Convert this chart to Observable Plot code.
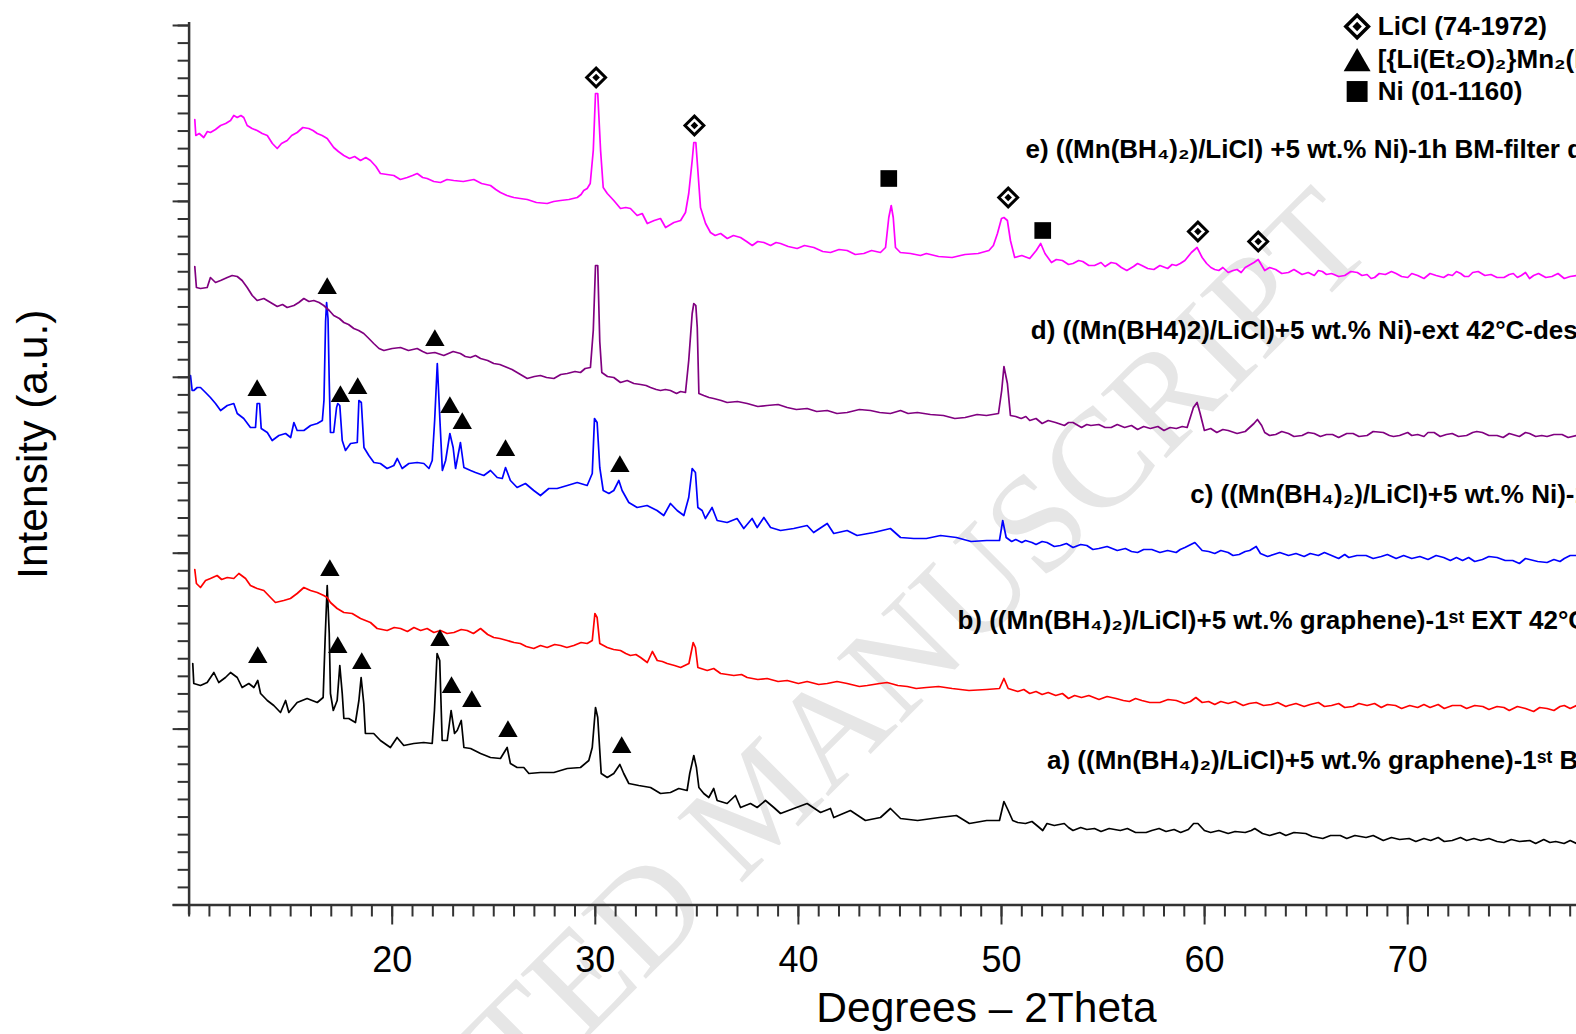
<!DOCTYPE html>
<html><head><meta charset="utf-8">
<script src="https://cdn.jsdelivr.net/npm/d3@7"></script>
<script src="https://cdn.jsdelivr.net/npm/@observablehq/plot@0.6"></script>
<style>
html,body{margin:0;padding:0;background:#fff;overflow:hidden;width:1576px;height:1034px;}
#chart{width:1650px;height:1034px;}
#chart svg{display:block;max-width:none !important;width:1650px !important;height:1034px !important;}
</style></head><body><div id="chart"></div>
<script>
// ---- data: [2θ (degrees), intensity (a.u., offset per pattern)] ----
const traceE = [[10.28,782],[10.33,766],[10.5,768],[10.72,764],[10.9,770],[11.05,769],[11.3,772],[11.55,776],[11.8,778],[12.04,781],[12.2,786],[12.37,784],[12.55,786],[12.69,784],[12.86,776],[13.1,773],[13.35,771],[13.6,768],[13.85,766],[14.1,758],[14.34,753],[14.55,758],[14.83,761],[15.05,766],[15.32,769],[15.6,774],[15.89,773],[16.1,771],[16.31,768],[16.55,766],[16.8,763],[17.12,754],[17.35,750],[17.62,746],[17.9,743],[18.15,745],[18.44,741],[18.7,744],[18.93,741],[19.2,735],[19.42,728],[19.75,727],[20.08,726],[20.4,722],[20.74,724],[21.0,726],[21.23,728],[21.5,724],[21.72,723],[22.05,720],[22.38,719],[22.7,722],[23.03,721],[23.5,720],[24.02,722],[24.4,718],[24.84,716],[25.1,712],[25.33,709],[25.65,706],[25.99,704],[26.3,703],[26.65,702],[27.1,699],[27.63,698],[27.95,700],[28.29,701],[28.7,702],[29.11,704],[29.3,707],[29.43,711],[29.6,713],[29.75,718],[29.9,751],[30.01,808],[30.12,808],[30.26,751],[30.39,714],[30.59,708],[30.91,701],[31.24,693],[31.5,694],[31.73,693],[32.06,686],[32.31,688],[32.56,678],[32.9,681],[33.21,683],[33.46,674],[33.87,679],[34.2,681],[34.44,689],[34.6,708],[34.77,741],[34.85,759],[34.95,759],[35.05,731],[35.18,694],[35.43,678],[35.67,669],[35.9,666],[36.17,668],[36.5,663],[36.8,666],[37.15,664],[37.45,660],[37.73,656],[38.0,660],[38.3,659],[38.63,656],[38.9,659],[39.12,658],[39.5,655],[39.94,653],[40.3,656],[40.76,654],[41.2,650],[41.58,649],[42.0,652],[42.4,651],[42.8,647],[43.22,648],[43.6,651],[44.04,649],[44.29,654],[44.45,684],[44.57,696],[44.67,684],[44.78,654],[45.02,649],[45.52,648],[46.01,646],[46.3,648],[46.9,645],[47.57,644],[48.2,647],[48.85,648],[49.38,651],[49.6,656],[49.8,668],[50.0,683],[50.12,684],[50.29,681],[50.44,661],[50.65,644],[51.0,646],[51.39,643],[51.71,651],[51.93,658],[52.14,648],[52.46,639],[52.7,642],[53.0,641],[53.3,637],[53.52,638],[53.8,641],[54.0,640],[54.3,636],[54.58,636],[54.9,639],[55.1,635],[55.4,639],[55.64,638],[55.9,634],[56.17,631],[56.5,635],[56.7,638],[56.91,636],[57.2,633],[57.5,632],[57.8,636],[58.18,633],[58.4,637],[58.6,636],[58.8,638],[59.03,641],[59.35,649],[59.63,654],[59.88,644],[60.1,638],[60.31,634],[60.5,632],[60.7,631],[60.9,634],[61.16,629],[61.4,631],[61.6,632],[61.8,629],[62.0,634],[62.43,639],[62.64,642],[62.96,631],[63.2,634],[63.5,632],[63.8,628],[64.13,629],[64.4,632],[64.8,627],[65.1,629],[65.4,626],[65.6,631],[65.8,630],[66.0,627],[66.25,628],[66.6,625],[66.9,626],[67.2,630],[67.52,629],[67.75,626],[68.0,627],[68.2,623],[68.37,624],[68.6,628],[68.9,627],[69.2,630],[69.43,628],[69.7,625],[70.0,624],[70.2,628],[70.49,626],[70.8,623],[71.1,628],[71.4,626],[71.77,624],[72.0,627],[72.2,626],[72.4,630],[72.61,628],[72.8,625],[73.0,625],[73.2,629],[73.47,630],[73.8,626],[74.1,627],[74.4,624],[74.74,624],[75.0,627],[75.2,628],[75.4,624],[75.59,626],[75.8,629],[76.0,623],[76.2,626],[76.44,628],[76.8,624],[77.1,625],[77.4,628],[77.71,623],[78.0,625],[78.31,626],[78.6,623],[78.9,626],[79.2,625],[79.6,622],[80,624]];

const traceD = [[10.28,635],[10.36,614],[10.56,613],[10.89,614],[11.05,624],[11.3,619],[11.55,621],[11.88,624],[12.12,626],[12.37,625],[12.61,621],[12.86,614],[13.11,606],[13.35,601],[13.68,603],[14.01,599],[14.34,595],[14.6,597],[14.83,594],[15.16,596],[15.4,599],[15.65,603],[15.9,600],[16.14,601],[16.4,599],[16.63,596],[16.9,591],[17.12,586],[17.4,583],[17.62,579],[17.85,577],[18.11,573],[18.35,571],[18.6,568],[18.85,563],[19.09,558],[19.35,553],[19.59,551],[20.0,553],[20.41,554],[20.8,551],[21.23,553],[21.5,550],[21.72,548],[22.1,549],[22.54,546],[23.0,550],[23.36,548],[23.6,545],[23.85,544],[24.1,546],[24.35,543],[24.7,541],[25.0,538],[25.3,537],[25.66,534],[25.9,532],[26.15,529],[26.4,526],[26.65,523],[27.0,525],[27.3,526],[27.6,524],[27.96,523],[28.3,527],[28.62,528],[29.0,530],[29.27,529],[29.5,533],[29.76,534],[29.9,571],[30.01,636],[30.12,636],[30.22,560],[30.32,529],[30.6,525],[30.91,524],[31.24,519],[31.57,521],[31.9,518],[32.23,517],[32.5,516],[32.72,514],[33.0,512],[33.21,511],[33.45,512],[33.7,511],[34.0,508],[34.2,510],[34.44,509],[34.6,541],[34.77,588],[34.85,598],[34.95,596],[35.02,574],[35.1,508],[35.34,506],[35.6,504],[35.83,503],[36.2,501],[36.49,499],[37.0,500],[37.48,498],[38.0,495],[38.46,496],[39.0,497],[39.45,494],[39.9,492],[40.43,493],[40.9,490],[41.42,491],[41.9,488],[42.4,489],[43.0,492],[43.55,491],[44.0,489],[44.53,488],[45.03,491],[45.4,488],[45.86,489],[46.5,487],[47.14,486],[47.7,483],[48.21,484],[48.8,487],[49.26,486],[49.85,488],[50.01,511],[50.12,535],[50.29,518],[50.44,486],[50.7,485],[50.97,483],[51.2,485],[51.39,481],[51.7,483],[52.0,478],[52.3,481],[52.66,479],[53.1,476],[53.3,479],[53.52,479],[53.94,474],[54.2,477],[54.4,476],[54.79,477],[55.1,474],[55.4,474],[55.7,477],[56.06,474],[56.4,476],[56.7,472],[57.0,475],[57.33,473],[57.7,475],[58.0,471],[58.3,474],[58.61,473],[58.9,475],[59.14,474],[59.45,494],[59.63,499],[59.78,488],[59.99,471],[60.3,473],[60.6,469],[60.9,472],[61.16,471],[61.6,468],[62.0,470],[62.43,478],[62.6,482],[62.81,476],[62.96,469],[63.2,466],[63.5,467],[63.8,470],[64.13,468],[64.4,465],[64.8,466],[65.1,469],[65.4,468],[65.7,465],[66.0,467],[66.3,467],[66.6,464],[67.0,468],[67.31,468],[67.6,465],[68.0,466],[68.3,470],[68.8,469],[69.1,466],[69.3,465],[69.6,466],[70.0,469],[70.2,466],[70.49,467],[70.8,465],[71.0,469],[71.3,469],[71.6,465],[71.9,467],[72.19,468],[72.5,465],[72.9,466],[73.2,469],[73.4,470],[73.68,469],[74.0,466],[74.4,466],[74.7,464],[75.0,468],[75.17,467],[75.5,465],[75.8,469],[76.0,468],[76.3,465],[76.6,466],[76.86,465],[77.2,467],[77.6,467],[77.9,464],[78.31,466],[78.7,464],[79.0,466],[79.2,465],[79.6,467],[80,466]];

const traceC = [[10.07,526],[10.15,511],[10.23,511],[10.4,514],[10.56,514],[10.81,509],[11.05,504],[11.3,498],[11.55,491],[11.88,496],[12.2,498],[12.37,488],[12.69,483],[13.02,474],[13.27,474],[13.35,498],[13.47,498],[13.55,473],[13.85,469],[14.09,461],[14.42,466],[14.75,468],[15.0,464],[15.16,479],[15.32,471],[15.65,471],[15.98,476],[16.31,478],[16.56,481],[16.64,501],[16.72,580],[16.77,599],[16.84,583],[16.9,520],[16.96,469],[17.12,469],[17.26,494],[17.32,498],[17.42,496],[17.54,461],[17.7,451],[17.95,458],[18.28,459],[18.36,501],[18.48,499],[18.61,454],[18.85,446],[19.1,439],[19.42,438],[19.75,433],[20.08,436],[20.25,443],[20.49,433],[20.82,438],[21.23,439],[21.56,438],[21.81,433],[21.97,441],[22.09,481],[22.22,538],[22.35,481],[22.47,431],[22.63,441],[22.84,468],[23.0,454],[23.12,433],[23.36,459],[23.53,434],[23.86,431],[24.1,429],[24.51,426],[24.84,431],[25.17,424],[25.42,423],[25.58,434],[25.82,421],[26.15,414],[26.56,418],[26.97,411],[27.3,406],[27.71,413],[28.12,413],[28.62,416],[29.11,419],[29.6,416],[29.85,428],[29.96,483],[30.09,479],[30.22,434],[30.39,411],[30.67,408],[30.91,411],[31.16,421],[31.32,411],[31.65,399],[32.06,394],[32.55,396],[33.04,391],[33.37,386],[33.7,398],[34.03,391],[34.36,386],[34.6,404],[34.77,433],[34.93,429],[35.05,394],[35.26,391],[35.42,383],[35.75,394],[36.0,381],[36.49,379],[36.98,383],[37.31,373],[37.72,383],[37.97,374],[38.3,384],[38.63,374],[39.12,371],[39.77,373],[40.43,376],[40.75,369],[41.42,378],[41.74,368],[42.4,371],[42.89,366],[43.71,369],[44.53,373],[45.03,364],[45.68,363],[46.3,363],[47.0,366],[47.78,364],[48.5,360],[49.27,361],[49.9,361],[50.06,381],[50.23,364],[50.5,360],[50.7,362],[51.0,359],[51.18,361],[51.5,359],[51.7,357],[52.0,360],[52.24,359],[52.6,355],[52.9,356],[53.2,358],[53.52,354],[53.9,357],[54.2,356],[54.5,352],[54.79,353],[55.2,355],[55.7,351],[56.1,353],[56.4,350],[56.7,349],[57.0,352],[57.4,352],[57.8,349],[58.18,351],[58.6,349],[58.8,352],[59.03,354],[59.52,359],[59.88,351],[60.2,350],[60.5,348],[60.8,351],[61.16,349],[61.4,346],[61.7,347],[62.0,350],[62.22,351],[62.54,355],[62.75,348],[63.1,345],[63.4,347],[63.7,349],[64.13,346],[64.5,348],[64.9,345],[65.2,348],[65.6,346],[65.9,349],[66.25,346],[66.6,343],[66.9,347],[67.1,344],[67.5,346],[67.95,346],[68.3,343],[68.7,345],[69.0,347],[69.43,343],[69.8,346],[70.2,343],[70.6,345],[71.0,342],[71.4,346],[71.77,344],[72.1,341],[72.4,344],[72.7,341],[73.0,344],[73.3,340],[73.68,342],[74.0,345],[74.4,344],[74.8,341],[75.17,341],[75.5,338],[75.8,343],[76.0,342],[76.4,340],[76.86,339],[77.2,342],[77.5,340],[77.71,343],[78.0,346],[78.31,346],[78.6,342],[79.0,344],[79.3,342],[79.6,345],[80,344]];

const traceB = [[10.28,332],[10.36,318],[10.56,314],[10.81,321],[11.05,323],[11.38,326],[11.6,322],[11.88,324],[12.2,323],[12.45,328],[12.78,323],[13.02,316],[13.35,313],[13.68,311],[14.01,304],[14.25,299],[14.66,301],[14.99,303],[15.32,308],[15.65,314],[15.98,311],[16.31,309],[16.63,306],[16.8,304],[16.96,299],[17.29,293],[17.62,289],[18.03,288],[18.44,283],[18.93,279],[19.26,273],[19.75,271],[20.1,274],[20.41,273],[20.75,270],[21.07,274],[21.4,271],[21.72,273],[22.05,269],[22.38,271],[22.7,268],[23.04,269],[23.4,272],[23.69,271],[24.0,268],[24.35,273],[24.7,267],[25.0,264],[25.3,263],[25.66,261],[26.0,259],[26.31,258],[26.6,255],[26.97,253],[27.3,256],[27.63,254],[28.0,257],[28.29,256],[28.6,254],[28.94,256],[29.3,259],[29.6,258],[29.85,261],[29.98,288],[30.09,284],[30.22,258],[30.59,254],[30.9,252],[31.24,251],[31.5,248],[31.73,246],[32.0,247],[32.23,244],[32.56,239],[32.81,250],[33.05,241],[33.3,240],[33.54,238],[33.9,236],[34.2,234],[34.61,238],[34.82,259],[34.93,254],[35.05,234],[35.51,231],[35.83,233],[36.17,228],[36.5,227],[36.82,226],[37.2,227],[37.48,224],[38.0,222],[38.46,223],[39.0,220],[39.45,221],[40.0,218],[40.43,220],[41.0,217],[41.42,218],[41.9,220],[42.4,218],[43.0,215],[43.39,216],[44.0,218],[44.37,219],[44.9,216],[45.36,215],[45.8,213],[46.3,214],[46.9,215],[47.57,213],[48.4,211],[49.27,212],[49.9,213],[50.12,223],[50.33,213],[50.8,210],[51.1,212],[51.39,208],[51.7,210],[52.0,207],[52.3,209],[52.67,206],[53.0,208],[53.3,203],[53.6,206],[53.94,204],[54.3,206],[54.8,202],[55.2,205],[55.64,203],[56.0,201],[56.3,200],[56.6,203],[56.91,201],[57.3,199],[57.8,199],[58.2,202],[58.61,201],[59.0,198],[59.3,200],[59.57,204],[59.88,199],[60.2,200],[60.5,197],[60.8,200],[61.16,198],[61.5,200],[61.9,196],[62.2,198],[62.54,199],[62.9,196],[63.3,197],[63.6,199],[64.0,195],[64.13,196],[64.5,198],[64.9,195],[65.2,197],[65.6,199],[65.9,195],[66.25,196],[66.6,198],[66.9,194],[67.3,195],[67.6,198],[68.0,196],[68.37,198],[68.7,194],[69.0,197],[69.4,196],[69.7,193],[70.1,196],[70.49,194],[70.8,197],[71.1,194],[71.5,197],[71.8,193],[72.2,196],[72.61,196],[72.9,193],[73.3,196],[73.7,195],[74.0,192],[74.4,195],[74.74,194],[75.0,191],[75.4,195],[75.8,193],[76.2,190],[76.5,194],[76.86,193],[77.2,191],[77.5,195],[77.71,196],[78.0,193],[78.31,196],[78.7,193],[79.0,195],[79.4,192],[80,195]];

const traceA = [[10.18,238],[10.23,218],[10.56,216],[10.89,219],[11.22,229],[11.46,219],[11.79,224],[12.04,229],[12.37,224],[12.61,214],[12.94,218],[13.19,214],[13.38,221],[13.52,208],[13.85,201],[14.17,196],[14.5,189],[14.75,201],[14.91,189],[15.32,199],[15.81,203],[16.31,199],[16.6,204],[16.7,264],[16.8,316],[16.9,268],[16.96,208],[17.1,191],[17.29,201],[17.42,236],[17.54,208],[17.62,183],[17.86,183],[18.19,179],[18.36,201],[18.47,224],[18.6,198],[18.68,168],[19.09,168],[19.42,161],[19.91,154],[20.24,164],[20.57,156],[21.06,158],[21.55,159],[21.97,158],[22.08,191],[22.21,248],[22.34,241],[22.46,161],[22.71,161],[22.9,191],[23.07,168],[23.2,171],[23.4,181],[23.53,154],[23.86,153],[24.35,148],[24.84,144],[25.33,143],[25.66,154],[25.82,138],[26.15,134],[26.48,134],[26.73,128],[27.3,129],[27.96,129],[28.62,133],[29.27,134],[29.68,141],[29.85,154],[30.01,194],[30.12,184],[30.29,128],[30.59,124],[30.91,128],[31.21,137],[31.4,128],[31.65,118],[32.14,116],[32.72,114],[33.21,108],[33.7,109],[34.11,113],[34.52,111],[34.65,128],[34.85,146],[34.98,134],[35.1,114],[35.34,108],[35.59,104],[35.83,113],[36.0,101],[36.49,98],[36.9,106],[37.15,94],[37.64,98],[37.97,94],[38.38,101],[38.79,94],[39.12,88],[39.77,93],[40.43,98],[41.09,89],[41.58,93],[41.74,84],[42.56,91],[43.3,81],[44.04,84],[44.53,93],[45.03,83],[45.87,81],[46.94,84],[47.78,86],[48.42,78],[49.27,81],[49.9,81],[50.12,100],[50.33,91],[50.55,81],[50.8,79],[51.18,78],[51.5,80],[51.8,75],[52.03,71],[52.24,78],[52.6,76],[53.09,78],[53.3,74],[53.52,71],[53.9,74],[54.2,72],[54.58,73],[54.9,70],[55.3,73],[55.85,71],[56.2,73],[56.6,69],[57.12,69],[57.4,71],[57.76,73],[58.1,70],[58.5,72],[58.82,69],[59.2,72],[59.46,78],[59.67,78],[59.99,71],[60.3,69],[60.7,71],[61.16,68],[61.5,70],[62.0,69],[62.3,71],[62.47,73],[62.85,68],[63.2,66],[63.7,69],[64.0,66],[64.4,69],[64.98,68],[65.3,65],[65.82,63],[66.2,66],[66.68,66],[67.0,63],[67.4,66],[67.95,64],[68.3,66],[68.8,61],[69.2,64],[69.6,62],[70.07,63],[70.4,60],[70.8,63],[71.13,61],[71.5,64],[71.8,60],[72.19,61],[72.6,64],[72.9,61],[73.26,63],[73.6,61],[74.0,63],[74.4,60],[74.74,59],[75.1,62],[75.5,60],[76.01,61],[76.3,58],[76.7,62],[77.0,59],[77.29,60],[77.7,58],[78.0,61],[78.31,58],[78.6,60],[79.0,57],[79.5,60],[80,59]];

// phase markers [2θ, intensity]
const liclMarks = [[30.04,824],[34.88,776],[50.33,704],[59.67,670],[62.64,660]];
const niMarks = [[44.45,723],[52.03,671]];
const mnPhaseMarksC = [[13.35,514],[16.8,616],[17.45,508],[18.3,516],[22.1,564],[22.84,497],[23.45,481],[25.58,454],[31.21,438]];
const mnPhaseMarksA = [[13.38,247],[16.93,334],[17.32,257],[18.5,241],[22.35,264],[22.92,217],[23.92,203],[25.7,173],[31.3,157]];

// pattern labels
const patternLabels = [
  "e) ((Mn(BH₄)₂)/LiCl) +5 wt.% Ni)-1h BM-filter dried",
  "d) ((Mn(BH4)2)/LiCl)+5 wt.% Ni)-ext 42°C-desorbed",
  "c) ((Mn(BH₄)₂)/LiCl)+5 wt.% Ni)-1ˢᵗ EXT 42°C",
  "b) ((Mn(BH₄)₂)/LiCl)+5 wt.% graphene)-1ˢᵗ EXT 42°C",
  "a) ((Mn(BH₄)₂)/LiCl)+5 wt.% graphene)-1ˢᵗ BM"
];
const patternLabelX = [51.18, 51.44, 59.29, 47.83, 52.24];
const patternLabelY = [752, 571, 407, 281, 141];

// legend
const legendLabels = ["LiCl (74-1972)", "[{Li(Et₂O)₂}Mn₂(BH₄)₆]", "Ni (01-1160)"];
const legendSymbolX = 67.51;
const legendTextX = 68.53;
const legendY = [875, 842, 810];

// axes
const xMajorTicks = [20, 30, 40, 50, 60, 70, 80];
const xMinorTicks = d3.range(10, 81, 1);
const yTicks = d3.range(0, 51).map(i => -3.5 + i * 17.59);
const yMajorTicks = yTicks.filter((d, i) => i % 10 === 0);
const xLabel = "Degrees – 2Theta";
const yLabel = "Intensity (a.u.)";

// watermark of the source page
const watermarkText = ["ACCEPTED MANUSCRIPT"];
const watermarkPos = [66.94, 686];

// ---- build ----
const px = d => d[0], py = d => d[1];
const axisColor = "#333";
const lbl = patternLabels.map((t, i) => ({t, x: patternLabelX[i], y: patternLabelY[i]}));
const leg = legendLabels.map((t, i) => ({t, y: legendY[i]}));

const chart = Plot.plot({
  width: 1650, height: 1034,
  marginLeft: 188.6, marginRight: 39.7, marginTop: 25, marginBottom: 129.5,
  x: {domain: [10, 80]},
  y: {domain: [-3.5, 876]},
  style: {fontFamily: "'Liberation Sans', Arial, sans-serif", background: "white", color: "black", overflow: "visible"},
  marks: [
    Plot.text(watermarkText, {x: () => watermarkPos[0], y: () => watermarkPos[1], text: d => d, rotate: -45,
      textAnchor: "end", lineAnchor: "middle", fontSize: 140, fontFamily: "'Liberation Serif', 'Times New Roman', serif", fill: "#e6e6e6"}),
    Plot.line(traceA, {x: px, y: py, stroke: "#000000", strokeWidth: 1.7}),
    Plot.line(traceB, {x: px, y: py, stroke: "#ff0000", strokeWidth: 1.7}),
    Plot.line(traceC, {x: px, y: py, stroke: "#0000ff", strokeWidth: 1.7}),
    Plot.line(traceD, {x: px, y: py, stroke: "#800080", strokeWidth: 1.7}),
    Plot.line(traceE, {x: px, y: py, stroke: "#ff00ff", strokeWidth: 1.7}),
    // markers
    Plot.dot(liclMarks, {x: px, y: py, symbol: "diamond2", r: 8.5, fill: "white", stroke: "black", strokeWidth: 3}),
    Plot.dot(liclMarks, {x: px, y: py, symbol: "diamond2", r: 3.4, fill: "black", stroke: "none"}),
    Plot.dot(niMarks, {x: px, y: py, symbol: "square", r: 9.4, fill: "black", stroke: "none"}),
    Plot.dot(mnPhaseMarksC, {x: px, y: py, symbol: "triangle", r: 7.2, fill: "black", stroke: "none", dy: 3}),
    Plot.dot(mnPhaseMarksA, {x: px, y: py, symbol: "triangle", r: 7.2, fill: "black", stroke: "none", dy: 3}),
    // pattern labels
    Plot.text(lbl, {x: "x", y: "y", text: "t", textAnchor: "start", lineAnchor: "middle", fontSize: 26, fontWeight: "bold", fill: "black"}),
    // legend
    Plot.dot([leg[0]], {x: () => legendSymbolX, y: "y", symbol: "diamond2", r: 10.2, fill: "white", stroke: "black", strokeWidth: 3.5}),
    Plot.dot([leg[0]], {x: () => legendSymbolX, y: "y", symbol: "diamond2", r: 4.2, fill: "black", stroke: "none"}),
    Plot.dot([leg[1]], {x: () => legendSymbolX, y: "y", symbol: "triangle", r: 10, fill: "black", stroke: "none", dy: 4}),
    Plot.dot([leg[2]], {x: () => legendSymbolX, y: "y", symbol: "square", r: 11.8, fill: "black", stroke: "none"}),
    Plot.text(leg, {x: () => legendTextX, y: "y", text: "t", textAnchor: "start", lineAnchor: "middle", fontSize: 26, fontWeight: "bold", fill: "black"}),
    // axes
    Plot.axisY({ticks: yTicks, anchor: "left", tickSize: 11, tickFormat: () => "", stroke: axisColor, strokeWidth: 2, label: null}),
    Plot.axisY({ticks: yMajorTicks, anchor: "left", tickSize: 16, tickFormat: () => "", stroke: axisColor, strokeWidth: 2, label: null}),
    Plot.axisX({ticks: xMinorTicks, anchor: "bottom", tickSize: 12, tickFormat: () => "", stroke: axisColor, strokeWidth: 2, label: null}),
    Plot.axisX({ticks: xMajorTicks, anchor: "bottom", tickSize: 20, tickPadding: 21, fontSize: 36, tickFormat: d => String(d), stroke: axisColor, strokeWidth: 2, label: null}),
    Plot.ruleX([10], {stroke: axisColor, strokeWidth: 2.5, insetTop: -3, insetBottom: -10}),
    Plot.ruleY([-3.5], {stroke: axisColor, strokeWidth: 2.5, insetLeft: -16}),
    Plot.text([xLabel], {frameAnchor: "bottom", text: d => d, textAnchor: "middle", lineAnchor: "middle", dx: 86.5, dy: 103.7, fontSize: 42.5, fill: "black"}),
    Plot.text([yLabel], {frameAnchor: "left", text: d => d, rotate: -90, textAnchor: "middle", lineAnchor: "middle", dx: -156, dy: -21, fontSize: 42.5, fill: "black"})
  ]
});
document.getElementById("chart").appendChild(chart);
</script>
</body></html>
